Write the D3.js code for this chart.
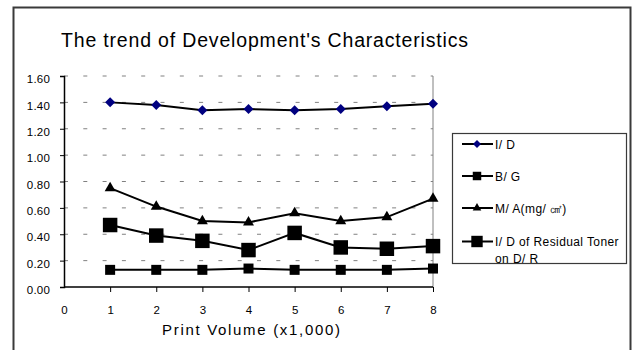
<!DOCTYPE html>
<html>
<head>
<meta charset="utf-8">
<script src="https://cdn.jsdelivr.net/npm/d3@7/dist/d3.min.js"></script>
<style>
  html, body { margin: 0; padding: 0; background: #fff; }
  svg { display: block; font-family: "Liberation Sans", Arial, sans-serif; }
</style>
</head>
<body>
<svg id="chart" width="633" height="350"></svg>
<script>
// Print volume (thousands of sheets)
const volumes = [1, 2, 3, 4, 5, 6, 7, 8];
const xTickValues = [0, 1, 2, 3, 4, 5, 6, 7, 8];
const yTickValues = [0, 0.2, 0.4, 0.6, 0.8, 1.0, 1.2, 1.4, 1.6];

// Measured development characteristics
const idValues       = [1.40, 1.38, 1.34, 1.35, 1.34, 1.35, 1.37, 1.39];
const bgValues       = [0.13, 0.13, 0.13, 0.14, 0.13, 0.13, 0.13, 0.14];
const maValues       = [0.75, 0.61, 0.50, 0.49, 0.56, 0.50, 0.53, 0.67];
const residualValues = [0.47, 0.39, 0.35, 0.28, 0.41, 0.30, 0.29, 0.31];

const seriesNames = ["I/ D", "B/ G", "M/ A(mg/ ㎠)", "I/ D of Residual Toner"];

const series = [
  { name: seriesNames[0], values: idValues,       shape: "diamond",  color: "#000080", size: 50,  legendSize: 32 },
  { name: seriesNames[1], values: bgValues,       shape: "square",   color: "#000000", size: 100, legendSize: 72 },
  { name: seriesNames[2], values: maValues,       shape: "triangle", color: "#000000", size: 52,  legendSize: 32 },
  { name: seriesNames[3], values: residualValues, shape: "square",   color: "#000000", size: 210, legendSize: 130 }
];

const svg = d3.select("#chart");

// outer frame
svg.append("rect")
  .attr("x", 13.5).attr("y", 7.5)
  .attr("width", 617).attr("height", 360)
  .attr("fill", "#fff")
  .attr("stroke", "#3a3a3a").attr("stroke-width", 2);

const plot = { left: 64, right: 433, top: 76, bottom: 287 };

const x = d3.scaleLinear().domain([0, 8]).range([plot.left, plot.right]);
const y = d3.scaleLinear().domain([0, 1.6]).range([plot.bottom, plot.top]);

// title
svg.append("text")
  .attr("x", 61).attr("y", 47)
  .attr("font-size", 19.5)
  .attr("textLength", 407).attr("lengthAdjust", "spacing")
  .attr("fill", "#000")
  .text("The trend of Development's Characteristics");

// dashed horizontal gridlines
svg.append("g")
  .selectAll("line")
  .data(yTickValues.filter(d => d > 0))
  .join("line")
  .attr("x1", plot.left).attr("x2", plot.right)
  .attr("y1", d => y(d)).attr("y2", d => y(d))
  .attr("stroke", "#808080")
  .attr("stroke-width", 1)
  .attr("stroke-dasharray", "4,15.3");

// right border of the plot area
svg.append("line")
  .attr("x1", plot.right).attr("x2", plot.right)
  .attr("y1", plot.top).attr("y2", plot.bottom)
  .attr("stroke", "#808080").attr("stroke-width", 1);

// y axis
const yAxis = svg.append("g")
  .attr("transform", `translate(${plot.left},0)`)
  .call(d3.axisLeft(y).tickValues(yTickValues).tickSize(4).tickPadding(10)
    .tickFormat(d3.format(".2f")));
yAxis.select(".domain").attr("stroke", "#000").attr("stroke-width", 1.5);
yAxis.selectAll(".tick line").attr("stroke", "#000");
yAxis.selectAll("text")
  .attr("font-size", 11.5)
  .attr("letter-spacing", 0.2)
  .attr("y", 3)
  .attr("fill", "#000");

// x axis
const xAxis = svg.append("g")
  .attr("transform", `translate(0,${plot.bottom})`)
  .call(d3.axisBottom(x).tickValues(xTickValues).tickSize(5).tickPadding(14)
    .tickFormat(d3.format("d")));
xAxis.select(".domain").attr("stroke", "#000").attr("stroke-width", 1.5)
  .attr("d", `M${plot.left},0H${plot.right}`);
xAxis.selectAll(".tick line").attr("stroke", "#000")
  .attr("opacity", d => d === 0 ? 0 : 1);
xAxis.selectAll("text")
  .attr("font-size", 11.5)
  .attr("fill", "#000");

// x axis title
svg.append("text")
  .attr("x", 162).attr("y", 335)
  .attr("font-size", 15)
  .attr("textLength", 178).attr("lengthAdjust", "spacing")
  .attr("fill", "#000")
  .text("Print Volume (x1,000)");

function symbolFor(shape, size) {
  if (shape === "triangle") return d3.symbol(d3.symbolTriangle, size)();
  return d3.symbol(d3.symbolSquare, size)();
}

const line = d3.line()
  .x((d, i) => x(volumes[i]))
  .y(d => y(d));

// series lines then markers
series.forEach(s => {
  svg.append("path")
    .datum(s.values)
    .attr("d", line)
    .attr("fill", "none")
    .attr("stroke", "#000")
    .attr("stroke-width", 2);
});

series.forEach(s => {
  svg.append("g")
    .selectAll("path")
    .data(s.values)
    .join("path")
    .attr("d", symbolFor(s.shape, s.size))
    .attr("transform", (d, i) =>
      `translate(${x(volumes[i])},${y(d)})` + (s.shape === "diamond" ? " rotate(45)" : ""))
    .attr("fill", s.color);
});

// legend
const legend = svg.append("g");
legend.append("rect")
  .attr("x", 452.5).attr("y", 133.5)
  .attr("width", 174).attr("height", 130)
  .attr("fill", "#fff")
  .attr("stroke", "#3a3a3a").attr("stroke-width", 1.2);

const legendRows = [144, 176, 208, 241.5];
series.forEach((s, i) => {
  const ly = legendRows[i];
  legend.append("line")
    .attr("x1", 462).attr("x2", 493)
    .attr("y1", ly).attr("y2", ly)
    .attr("stroke", "#000").attr("stroke-width", 2);
  legend.append("path")
    .attr("d", symbolFor(s.shape, s.legendSize))
    .attr("transform", `translate(477,${ly})` + (s.shape === "diamond" ? " rotate(45)" : ""))
    .attr("fill", s.color);
  legend.append("text")
    .attr("x", 495).attr("y", ly + 4.5)
    .attr("font-size", 12)
    .attr("letter-spacing", 0.4)
    .attr("fill", "#000")
    .text(s.name);
});
legend.append("text")
  .attr("x", 495).attr("y", 262.5)
  .attr("font-size", 12)
  .attr("letter-spacing", 0.4)
  .attr("fill", "#000")
  .text("on D/ R");
</script>
</body>
</html>
